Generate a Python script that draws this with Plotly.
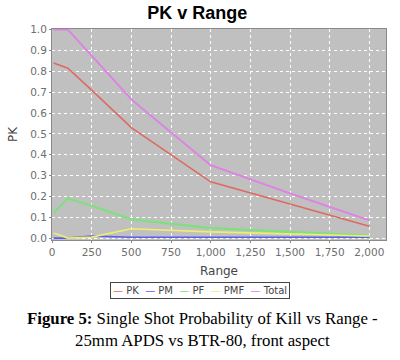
import plotly.graph_objects as go

ranges = [10, 100, 250, 500, 1000, 1500, 2000]
pk = [0.84, 0.815, 0.71, 0.53, 0.27, 0.165, 0.057]
pm = [0.0, 0.0, 0.01, 0.004, 0.004, 0.004, 0.004]
pf = [0.12, 0.19, 0.155, 0.09, 0.048, 0.03, 0.012]
pmf = [0.025, 0.0, 0.005, 0.045, 0.03, 0.02, 0.01]
total = [1.0, 1.0, 0.875, 0.665, 0.35, 0.215, 0.085]

names = ["PK", "PM", "PF", "PMF", "Total"]
series = [pk, pm, pf, pmf, total]
colors = ["#dd6a62", "#5c5cf0", "#7ee07e", "#eeee6e", "#e07fe6"]
widths = [1.6, 1.6, 2.2, 1.6, 1.8]

fig = go.Figure()
for n, s, c, w in zip(names, series, colors, widths):
    fig.add_trace(go.Scatter(x=ranges, y=s, mode="lines", name=n,
                             line=dict(color=c, width=w), cliponaxis=True))

tick_font = dict(family="DejaVu Sans", size=10.5, color="#6e6e6e")
fig.update_layout(
    width=400, height=360,
    margin=dict(l=52, r=14, t=29, b=120),
    paper_bgcolor="white", plot_bgcolor="#c0c0c0",
    showlegend=False,
    title=dict(text="<b>PK v Range</b>", x=0.493, xanchor="center", y=0.965, yanchor="middle",
               font=dict(family="Liberation Sans", size=18, color="black")),
    xaxis=dict(range=[0, 2105], tickvals=[0, 250, 500, 750, 1000, 1250, 1500, 1750, 2000],
               tickformat=",d", showgrid=True, gridcolor="white", griddash="dot", gridwidth=1,
               zeroline=False, showline=True, mirror=True, linecolor="#8a8a8a",
               ticks="outside", ticklen=2, tickcolor="#8a8a8a", tickfont=tick_font,
               automargin=False,
               title=dict(text="Range", font=dict(family="DejaVu Sans", size=12, color="#444"),
                          standoff=10)),
    yaxis=dict(range=[-0.009, 1.003], tickvals=[i / 10 for i in range(11)], tickformat=".1f",
               showgrid=True, gridcolor="white", griddash="dot", gridwidth=1,
               zeroline=False, showline=True, mirror=True, linecolor="#8a8a8a",
               ticks="outside", ticklen=2, tickcolor="#8a8a8a", tickfont=tick_font,
               automargin=False,
               title=dict(text="PK", font=dict(family="DejaVu Sans", size=12, color="#444"),
                          standoff=9)),
)

legend_text = "&nbsp;&nbsp;".join(
    f'<span style="color:{c}">—</span> {n}' for n, c in zip(names, colors))
fig.add_annotation(text=legend_text, xref="paper", yref="paper", x=0.443, y=-0.2417,
                   xanchor="center", yanchor="middle", showarrow=False,
                   font=dict(family="DejaVu Sans", size=10, color="#444"),
                   bordercolor="#444", borderwidth=1, borderpad=2, bgcolor="white")

fig.add_annotation(text="<b>Figure 5:</b> Single Shot Probability of Kill vs Range -<br>25mm APDS vs BTR-80, front aspect",
                   xref="paper", yref="paper", x=0.45, y=-0.425, xanchor="center", yanchor="middle",
                   showarrow=False, align="center",
                   font=dict(family="Liberation Serif", size=16.8, color="black"))

fig.write_html("out.html", config={"displayModeBar": False},
               post_script="document.body.style.margin='0';")
